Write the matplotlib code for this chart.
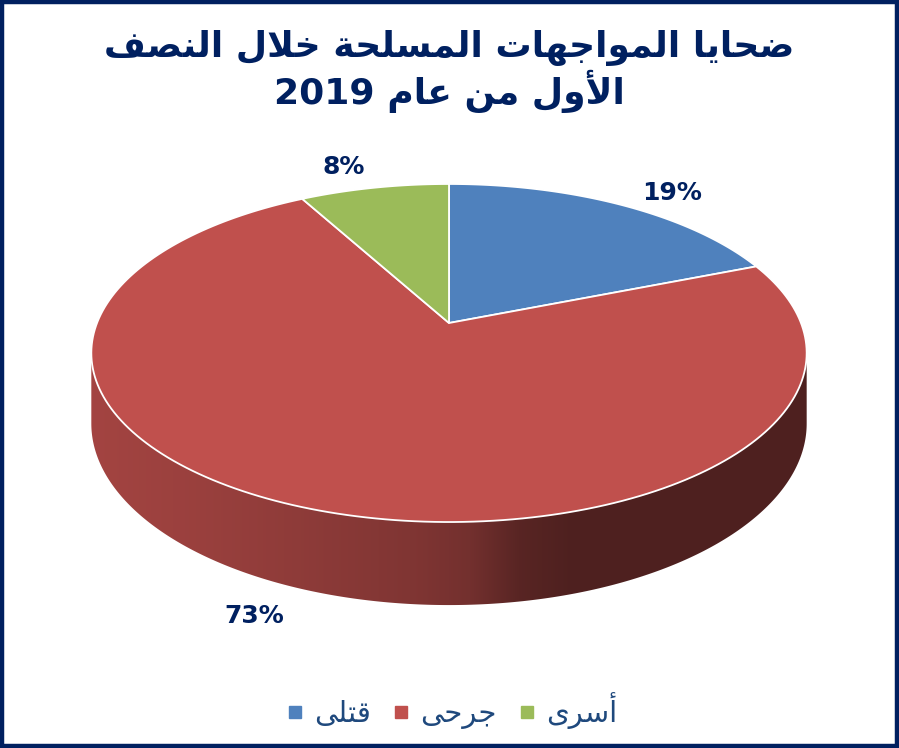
import re
import numpy as np
import matplotlib
matplotlib.use('Agg')
import matplotlib.pyplot as plt
from matplotlib.patches import Polygon, Rectangle
from matplotlib.lines import Line2D

# ---------------- data ----------------
categories = ['قتلى', 'جرحى', 'أسرى']
values = [19, 73, 8]
pct_labels = ['19%', '73%', '8%']
colors = ['#4F81BD', '#C0504D', '#9BBB59']
title_lines = ['ضحايا المواجهات المسلحة خلال النصف', 'الأول من عام 2019']

NAVY = '#002060'
LEG_TXT = '#1F497D'

# ---------------- simple Arabic shaping ----------------
FORMS = {
    '\u0627': (0xFE8D, 0xFE8E, None, None),
    '\u0623': (0xFE83, 0xFE84, None, None),
    '\u0628': (0xFE8F, 0xFE90, 0xFE91, 0xFE92),
    '\u062A': (0xFE95, 0xFE96, 0xFE97, 0xFE98),
    '\u0629': (0xFE93, 0xFE94, None, None),
    '\u062C': (0xFE9D, 0xFE9E, 0xFE9F, 0xFEA0),
    '\u062D': (0xFEA1, 0xFEA2, 0xFEA3, 0xFEA4),
    '\u062E': (0xFEA5, 0xFEA6, 0xFEA7, 0xFEA8),
    '\u0631': (0xFEAD, 0xFEAE, None, None),
    '\u0633': (0xFEB1, 0xFEB2, 0xFEB3, 0xFEB4),
    '\u0635': (0xFEB9, 0xFEBA, 0xFEBB, 0xFEBC),
    '\u0636': (0xFEBD, 0xFEBE, 0xFEBF, 0xFEC0),
    '\u0639': (0xFEC9, 0xFECA, 0xFECB, 0xFECC),
    '\u0641': (0xFED1, 0xFED2, 0xFED3, 0xFED4),
    '\u0642': (0xFED5, 0xFED6, 0xFED7, 0xFED8),
    '\u0644': (0xFEDD, 0xFEDE, 0xFEDF, 0xFEE0),
    '\u0645': (0xFEE1, 0xFEE2, 0xFEE3, 0xFEE4),
    '\u0646': (0xFEE5, 0xFEE6, 0xFEE7, 0xFEE8),
    '\u0647': (0xFEE9, 0xFEEA, 0xFEEB, 0xFEEC),
    '\u0648': (0xFEED, 0xFEEE, None, None),
    '\u0649': (0xFEEF, 0xFEF0, 0xFBE8, 0xFBE9),
    '\u064A': (0xFEF1, 0xFEF2, 0xFEF3, 0xFEF4),
}
LAM_ALEF = {'\u0627': (0xFEFB, 0xFEFC), '\u0623': (0xFEF7, 0xFEF8)}


def _dual(c):
    return c in FORMS and FORMS[c][2] is not None


def shape(text):
    out = []
    i, n = 0, len(text)
    while i < n:
        c = text[i]
        if c not in FORMS:
            out.append(c)
            i += 1
            continue
        prev = text[i - 1] if i > 0 else None
        conn_prev = prev is not None and _dual(prev)
        if c == '\u0644' and i + 1 < n and text[i + 1] in LAM_ALEF:
            iso, fin = LAM_ALEF[text[i + 1]]
            out.append(chr(fin if conn_prev else iso))
            i += 2
            continue
        nxt = text[i + 1] if i + 1 < n else None
        conn_next = _dual(c) and nxt is not None and nxt in FORMS
        f = FORMS[c]
        if conn_prev and conn_next:
            g = f[3]
        elif conn_prev:
            g = f[1]
        elif conn_next:
            g = f[2]
        else:
            g = f[0]
        out.append(chr(g))
        i += 1
    return ''.join(out)


def visual(text):
    s = shape(text)[::-1]
    return re.sub(r'[0-9]+', lambda m: m.group(0)[::-1], s)


# ---------------- geometry (perspective 3D pie) ----------------
CX, CY = 449.0, 323.0
A, B, K, H = 352.0, 163.7, 0.1775, 68.3


def top_pt(t, r=1.0):
    X, Y = r * np.cos(t), r * np.sin(t)
    d = 1 + K * Y
    return CX + A * X / d, CY - B * Y / d


def bot_pt(t):
    x, y = top_pt(t)
    d = 1 + K * np.sin(t)
    return x, y + H / d


fig = plt.figure(figsize=(8.99, 7.48), dpi=100)
ax = fig.add_axes([0, 0, 1, 1])
ax.axis('off')

total = float(sum(values))
fracs = np.array(values) / total
cum = np.concatenate([[0], np.cumsum(fracs)])
start = np.deg2rad(90.0)
t_edges = start - 2 * np.pi * cum  # clockwise (decreasing angle)

# side wall: visible front range (in the same decreasing-angle frame)
tv_a = -np.arcsin(K)            # right silhouette
tv_b = -np.pi + np.arcsin(K)    # left silhouette
shade_x = [91, 200, 300, 420, 470, 520, 570, 807]
shade_f = [0.85, 0.80, 0.74, 0.66, 0.60, 0.46, 0.41, 0.41]
gx = np.linspace(80, 820, 600)
gf = np.interp(gx, shade_x, shade_f)

for i in range(len(values)):
    hi = min(t_edges[i], tv_a)
    lo = max(t_edges[i + 1], tv_b)
    if hi <= lo:
        continue
    tt = np.linspace(hi, lo, 300)
    topc = [top_pt(t) for t in tt]
    botc = [bot_pt(t) for t in tt[::-1]]
    clip = Polygon(topc + botc, closed=True, transform=ax.transData)
    base = np.array(matplotlib.colors.to_rgb(colors[i]))
    img = (gf[None, :, None] * base[None, None, :])
    im = ax.imshow(img, extent=(80, 820, 630, 330), aspect='auto',
                   interpolation='bilinear', zorder=1)
    im.set_clip_path(clip)

# top face slices
for i in range(len(values)):
    tt = np.linspace(t_edges[i], t_edges[i + 1], 200)
    pts = [(CX, CY)] + [top_pt(t) for t in tt]
    ax.add_patch(Polygon(pts, closed=True, facecolor=colors[i], edgecolor='white',
                         linewidth=1.3, joinstyle='round', zorder=3))

# percentage labels
label_nudge = [(0, -5), (-60, 5), (-7, -5)]
ECY, EA, EB = 353.0, 358.0, 169.0
for i in range(len(values)):
    tm = 0.5 * (t_edges[i] + t_edges[i + 1])
    lx = CX + EA * np.cos(tm) * 1.108
    ly = ECY - EB * np.sin(tm) * 1.108
    if np.sin(tm) < 0:
        ly += H / (1 + K * np.sin(tm))
    lx += label_nudge[i][0]
    ly += label_nudge[i][1]
    ax.text(lx, ly, pct_labels[i], ha='center', va='center', fontsize=18,
            fontweight='bold', color=NAVY, family='DejaVu Sans', zorder=5)

# title
ax.text(449, 48, visual(title_lines[0]), ha='center', va='center', fontsize=26,
        fontweight='bold', color=NAVY, family='DejaVu Sans')
ax.text(449, 91, visual(title_lines[1]), ha='center', va='center', fontsize=26,
        fontweight='bold', color=NAVY, family='DejaVu Sans')

# legend
handles = [Line2D([], [], marker='s', linestyle='', color=c, markersize=9) for c in colors]
ax.legend(handles, [visual(c) for c in categories], loc='center',
          bbox_to_anchor=(449 / 899, 1 - 711 / 748), bbox_transform=fig.transFigure,
          ncol=3, frameon=False, labelcolor=LEG_TXT,
          handletextpad=0.15, columnspacing=0.55, handlelength=1.0,
          prop={'family': 'DejaVu Sans', 'size': 21})

# frame border
ax.add_patch(Rectangle((2, 2), 895, 744, fill=False, edgecolor=NAVY, linewidth=3.2,
                       zorder=10))

ax.set_xlim(0, 899)
ax.set_ylim(748, 0)
fig.savefig('out.png', dpi=100)
